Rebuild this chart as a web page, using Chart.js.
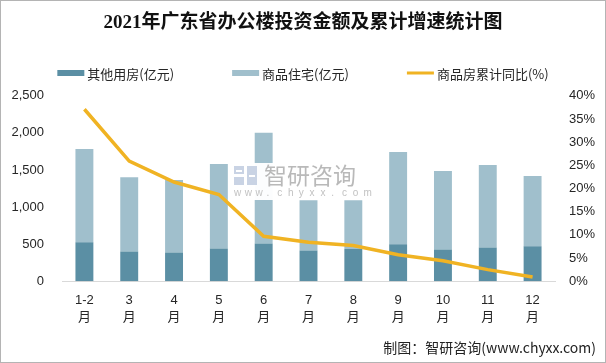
<!DOCTYPE html>
<html>
<head>
<meta charset="utf-8">
<script src="https://cdn.jsdelivr.net/npm/chart.js@4/dist/chart.umd.min.js"></script>
<style>
  html, body { margin: 0; padding: 0; background: #fff; }
  .wrap { width: 606px; height: 363px; position: relative; }
</style>
</head>
<body>
<div class="wrap"><canvas id="chart"></canvas></div>
<script>
const months = ['1-2', '3', '4', '5', '6', '7', '8', '9', '10', '11', '12'];
const otherUse = [524, 402, 388, 442, 510, 415, 433, 497, 429, 456, 470];
const residential = [1258, 1001, 975, 1137, 1493, 677, 659, 1245, 1056, 1110, 947];
const yoyPct = [37.1, 25.9, 21.4, 18.7, 9.7, 8.4, 7.7, 5.7, 4.4, 2.5, 0.9];
const leftTicks = [0, 500, 1000, 1500, 2000, 2500];
const rightTicks = [0, 5, 10, 15, 20, 25, 30, 35, 40];

const cnFont = '"Noto Sans CJK SC", "Liberation Sans", sans-serif';
const numFont = '"Liberation Sans", "Noto Sans CJK SC", sans-serif';

// border, legend, watermark, footer
const decor = {
    id: 'decor',
    beforeDraw(chart) {
        const c = chart.ctx;
        c.save();
        c.fillStyle = '#fff';
        c.fillRect(0, 0, chart.width, chart.height);
        c.restore();
    },
    afterDatasetsDraw(chart) {
        const c = chart.ctx;
        c.save();
        // watermark
        c.fillStyle = 'rgba(255,255,255,0.97)';
        c.fillRect(232, 163, 156, 37);
        c.fillStyle = '#c9d3e4';
        c.fillRect(234, 166, 10, 8);
        c.fillRect(234, 177, 10, 8);
        c.fillRect(247, 166, 10, 19);
        c.fillStyle = '#fff';
        c.fillRect(236, 170, 6, 2);
        c.fillRect(249, 175, 6, 2);
        c.fillStyle = '#b9b9b9';
        c.font = '23px ' + cnFont;
        c.textBaseline = 'middle';
        c.fillText('智研咨询', 264, 175);
        c.font = '10px ' + numFont;
        c.fillStyle = '#c2c2c2';
        const w = 'www.chyxx.com';
        for (let i = 0; i < w.length; i++) {
            c.fillText(w[i], 234 + i * 10.8, 193);
        }
        c.restore();
    },
    afterDraw(chart) {
        const c = chart.ctx;
        c.save();
        // legend
        c.font = '13px ' + cnFont;
        c.textBaseline = 'middle';
        const items = chart.data.datasets.map(ds => ({
            text: ds.label,
            color: ds.type === 'line' ? ds.borderColor : ds.backgroundColor,
            line: ds.type === 'line'
        }));
        const boxW = 27, gap = 3, itemGap = 58;
        let total = 0;
        items.forEach((it, i) => {
            it.w = boxW + gap + c.measureText(it.text).width;
            total += it.w + (i ? itemGap : 0);
        });
        let x = (chart.width - total) / 2;
        const y = 73;
        items.forEach(it => {
            c.fillStyle = it.color;
            if (it.line) c.fillRect(x, y - 1.5, boxW, 3);
            else c.fillRect(x, y - 3, boxW, 6);
            c.fillStyle = '#262626';
            c.fillText(it.text, x + boxW + gap, y + 1);
            x += it.w + itemGap;
        });
        // footer
        c.font = '14px ' + cnFont;
        c.textAlign = 'right';
        c.fillStyle = '#222';
        c.fillText('制图：智研咨询(www.chyxx.com)', 596, 348);
        // border
        c.strokeStyle = '#b4b4b4';
        c.lineWidth = 1;
        c.strokeRect(0.5, 0.5, chart.width - 1, chart.height - 1);
        c.restore();
    }
};

new Chart(document.getElementById('chart'), {
    data: {
        labels: months.map(m => [m, '月']),
        datasets: [
            {
                type: 'bar',
                label: '其他用房(亿元)',
                data: otherUse,
                backgroundColor: '#5b8fa4',
                yAxisID: 'y',
                stack: 's',
                order: 2,
                barPercentage: 0.4,
                categoryPercentage: 1
            },
            {
                type: 'bar',
                label: '商品住宅(亿元)',
                data: residential,
                backgroundColor: '#a0bfcc',
                yAxisID: 'y',
                stack: 's',
                order: 2,
                barPercentage: 0.4,
                categoryPercentage: 1
            },
            {
                type: 'line',
                label: '商品房累计同比(%)',
                data: yoyPct,
                borderColor: '#f0b323',
                backgroundColor: '#f0b323',
                borderWidth: 3.5,
                pointRadius: 0,
                tension: 0,
                yAxisID: 'y1',
                order: 1
            }
        ]
    },
    options: {
        responsive: true,
        maintainAspectRatio: false,
        animation: false,
        layout: {
            padding: { top: 0, left: 0, right: 0, bottom: 26 }
        },
        scales: {
            x: {
                stacked: true,
                grid: { display: false, drawTicks: false },
                border: { display: true, color: '#d9d9d9', width: 1 },
                ticks: {
                    padding: 11,
                    color: '#262626',
                    font: { family: numFont, size: 13, lineHeight: 1.3 },
                    maxRotation: 0,
                    autoSkip: false
                }
            },
            y: {
                stacked: true,
                position: 'left',
                min: 0,
                max: 2500,
                afterBuildTicks: s => { s.ticks = leftTicks.map(v => ({ value: v })); },
                afterFit: s => { s.width = 62; },
                grid: { display: false, drawTicks: false },
                border: { display: false },
                ticks: {
                    padding: 18,
                    color: '#262626',
                    font: { family: numFont, size: 13 },
                    callback: v => v.toLocaleString('en-US')
                }
            },
            y1: {
                position: 'right',
                min: 0,
                max: 40,
                afterBuildTicks: s => { s.ticks = rightTicks.map(v => ({ value: v })); },
                afterFit: s => { s.width = 51; },
                grid: { display: false, drawTicks: false },
                border: { display: false },
                ticks: {
                    padding: 14,
                    color: '#262626',
                    font: { family: numFont, size: 13 },
                    callback: v => v + '%'
                }
            }
        },
        plugins: {
            legend: { display: false },
            tooltip: { enabled: false },
            title: {
                display: true,
                text: '2021年广东省办公楼投资金额及累计增速统计图',
                color: '#111',
                font: { family: '"Liberation Serif", "Noto Sans CJK SC", serif', size: 19, weight: 'bold' },
                padding: { top: 12, bottom: 61 }
            }
        }
    },
    plugins: [decor]
});
</script>
</body>
</html>
